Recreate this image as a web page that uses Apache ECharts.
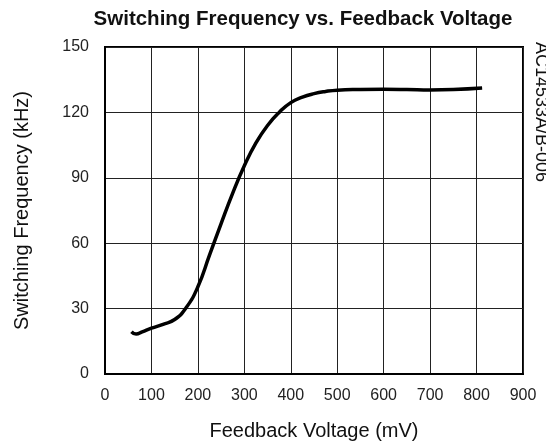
<!DOCTYPE html>
<html>
<head>
<meta charset="utf-8">
<script src="https://cdn.jsdelivr.net/npm/echarts@6/dist/echarts.min.js"></script>
<style>
html,body{margin:0;padding:0;background:#fff;}
#chart{width:546px;height:447px;}
</style>
</head>
<body>
<div id="chart"></div>
<script>
var voltage = [57, 67, 80, 100, 125, 150, 175, 200, 225, 250, 275, 300, 325, 350, 375, 400, 425, 450, 475, 500, 550, 600, 650, 700, 750, 812];
var frequency = [19.4, 18.3, 19.3, 21, 22.8, 25, 30.5, 40, 54.5, 69, 83, 95.5, 106, 114, 120, 124.5, 127, 128.6, 129.6, 130.2, 130.5, 130.6, 130.5, 130.3, 130.5, 131.2];
var xTicks = [0, 100, 200, 300, 400, 500, 600, 700, 800, 900];
var yTicks = [0, 30, 60, 90, 120, 150];

var data = voltage.map(function (v, i) { return [v, frequency[i]]; });
var font = '"Liberation Sans", Arial, sans-serif';

var chart = echarts.init(document.getElementById('chart'));
chart.setOption({
  animation: false,
  backgroundColor: '#fff',
  grid: {left: 105, right: 23, top: 47, bottom: 73, show: true, borderColor: '#000', borderWidth: 2, containLabel: false},
  xAxis: {
    type: 'value', min: xTicks[0], max: xTicks[xTicks.length - 1], interval: 100,
    name: 'Feedback Voltage (mV)', nameLocation: 'middle', nameGap: 47,
    nameTextStyle: {fontFamily: font, fontSize: 20, color: '#111'},
    axisLine: {show: true, lineStyle: {color: '#000', width: 2}},
    axisTick: {show: false},
    axisLabel: {fontFamily: font, fontSize: 16, color: '#222', margin: 14},
    splitLine: {show: true, lineStyle: {color: '#222', width: 1}}
  },
  yAxis: {
    type: 'value', min: yTicks[0], max: yTicks[yTicks.length - 1], interval: 30,
    name: 'Switching Frequency (kHz)', nameLocation: 'middle', nameGap: 73,
    nameTextStyle: {fontFamily: font, fontSize: 20, color: '#111'},
    axisLine: {show: true, lineStyle: {color: '#000', width: 2}},
    axisTick: {show: false},
    axisLabel: {fontFamily: font, fontSize: 16, color: '#222', margin: 16},
    splitLine: {show: true, lineStyle: {color: '#222', width: 1}}
  },
  series: [{
    type: 'line', data: data, smooth: 0.5, showSymbol: false,
    lineStyle: {color: '#000', width: 3.5}
  }],
  graphic: [
    {type: 'text', style: {x: 303, y: 19, text: 'Switching Frequency vs. Feedback Voltage', font: 'bold 20.5px ' + font, fill: '#111', textAlign: 'center', textVerticalAlign: 'middle'}},
    {type: 'text', rotation: -Math.PI / 2, x: 541, y: 42, style: {x: 0, y: 0, text: 'AC14533A/B-006', font: '18px ' + font, fill: '#111', textAlign: 'left', textVerticalAlign: 'middle'}}
  ]
});
</script>
</body>
</html>
